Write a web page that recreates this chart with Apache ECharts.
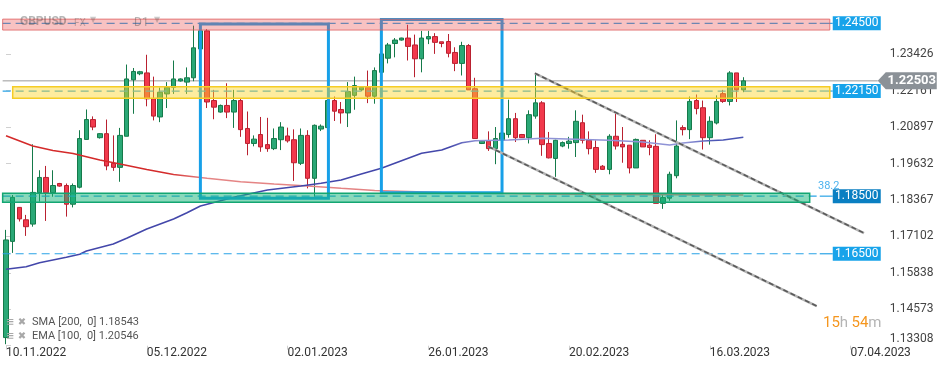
<!DOCTYPE html>
<html><head><meta charset="utf-8">
<script src="https://cdn.jsdelivr.net/npm/echarts@6/dist/echarts.min.js"></script>
<style>html,body{margin:0;padding:0;background:#fff}#c{width:949px;height:370px}</style>
</head><body><div id="c"></div>
<script>
// ---- candle data (GBPUSD D1), one entry per candle ----
const opens = [1.1359,1.1693,1.1811,1.1768,1.1753,1.1862,1.1915,1.1862,1.1894,1.1887,
 1.1822,1.1881,1.2047,1.2116,1.2053,1.2067,1.1964,1.1950,1.2058,1.2254,
 1.2275,1.2278,1.2188,1.2125,1.2205,1.2228,1.2250,1.2246,1.2261,1.2361,
 1.2424,1.2182,1.2142,1.2165,1.2142,1.2182,1.2085,1.2033,1.2064,1.2029,
 1.2015,1.2046,1.2059,1.2046,1.1964,1.2061,1.1912,1.2083,1.2088,1.2182,
 1.2151,1.2139,1.2200,1.2219,1.2228,1.2197,1.2280,1.2329,1.2380,1.2392,
 1.2399,1.2375,1.2327,1.2396,1.2404,1.2386,1.2387,1.2349,1.2311,1.2373,
 1.2223,1.2033,1.2041,1.2015,1.2044,1.2064,1.2119,1.2064,1.2053,1.2128,
 1.2174,1.2033,1.1981,1.2024,1.2033,1.2036,1.2105,1.2044,1.2019,1.1954,
 1.1943,1.2058,1.2030,1.2027,1.1948,1.2044,1.2027,1.2023,1.1825,1.1843,
 1.1921,1.2088,1.2081,1.2182,1.2157,1.2053,1.2104,1.2206,1.2179,1.2278,
 1.2219];
const highs = [1.1733,1.1854,1.1812,1.1785,1.2030,1.1940,1.1955,1.1940,1.1896,1.1894,
 1.1894,1.2079,1.2151,1.2127,1.2069,1.2116,1.2061,1.2087,1.2307,1.2295,
 1.2285,1.2341,1.2265,1.2227,1.2246,1.2321,1.2259,1.2297,1.2442,1.2446,
 1.2430,1.2219,1.2168,1.2242,1.2219,1.2188,1.2144,1.2061,1.2125,1.2122,
 1.2085,1.2107,1.2088,1.2082,1.2085,1.2079,1.2099,1.2099,1.2196,1.2196,
 1.2177,1.2246,1.2265,1.2230,1.2286,1.2297,1.2347,1.2382,1.2399,1.2400,
 1.2445,1.2411,1.2424,1.2424,1.2416,1.2386,1.2413,1.2367,1.2386,1.2378,
 1.2261,1.2042,1.2075,1.2090,1.2072,1.2185,1.2139,1.2066,1.2148,1.2275,
 1.2180,1.2073,1.2046,1.2040,1.2056,1.2148,1.2133,1.2075,1.2044,1.1958,
 1.2065,1.2139,1.2090,1.2027,1.2050,1.2044,1.2044,1.2065,1.1860,1.1935,
 1.2113,1.2096,1.2196,1.2203,1.2182,1.2127,1.2200,1.2219,1.2284,1.2278,
 1.2263];
const lows = [1.1336,1.1653,1.1762,1.1712,1.1744,1.1831,1.1764,1.1848,1.1883,1.1779,
 1.1811,1.1877,1.2047,1.2079,1.2050,1.1940,1.1938,1.1900,1.2058,1.2136,
 1.2270,1.2162,1.2113,1.2107,1.2156,1.2205,1.2248,1.2205,1.2249,1.2361,
 1.2156,1.2117,1.2140,1.2121,1.2087,1.2056,1.1992,1.2023,1.2004,1.2004,
 1.2010,1.2010,1.2036,1.1903,1.1958,1.1877,1.1848,1.2076,1.2085,1.2111,
 1.2102,1.2090,1.2150,1.2215,1.2173,1.2171,1.2275,1.2311,1.2332,1.2390,
 1.2321,1.2263,1.2280,1.2378,1.2344,1.2367,1.2332,1.2284,1.2269,1.2219,
 1.2050,1.2031,1.2007,1.1961,1.2040,1.2053,1.2038,1.2052,1.2033,1.2119,
 1.1990,1.1981,1.1917,1.2020,1.2015,1.1986,1.2033,1.1995,1.1931,1.1941,
 1.1926,1.2012,1.1966,1.1929,1.1948,1.2021,1.1992,1.1825,1.1806,1.1834,
 1.1912,1.2061,1.2048,1.2134,1.2012,1.2029,1.2099,1.2174,1.2165,1.2177,
 1.2211];
const closes = [1.1698,1.1846,1.1771,1.1744,1.1863,1.1915,1.1862,1.1887,1.1885,1.1822,
 1.1887,1.2050,1.2116,1.2090,1.2067,1.1955,1.1950,1.2061,1.2257,1.2283,
 1.2282,1.2188,1.2128,1.2211,1.2228,1.2257,1.2257,1.2261,1.2365,1.2424,
 1.2177,1.2159,1.2165,1.2142,1.2182,1.2081,1.2033,1.2048,1.2021,1.2015,
 1.2050,1.2090,1.2042,1.1966,1.2061,1.1912,1.2096,1.2093,1.2182,1.2145,
 1.2139,1.2213,1.2234,1.2228,1.2197,1.2286,1.2344,1.2375,1.2392,1.2399,
 1.2370,1.2327,1.2399,1.2404,1.2384,1.2380,1.2346,1.2311,1.2373,1.2219,
 1.2050,1.2041,1.2015,1.2050,1.2069,1.2119,1.2053,1.2053,1.2133,1.2174,
 1.2029,1.1983,1.2044,1.2036,1.2041,1.2110,1.2044,1.2015,1.1943,1.1943,
 1.2058,1.2024,1.2021,1.1948,1.2047,1.2021,1.2019,1.1825,1.1845,1.1926,
 1.2024,1.2081,1.2179,1.2154,1.2053,1.2110,1.2179,1.2179,1.2278,1.2219,
 1.22503];

// ---- moving averages (read at sample candles) ----
const smaIdx = [0,4,7,10,14,17,21,25,30,35,40,45,50,55,60,65,70,80,90,100,110];
const smaVals = [1.20600,1.20242,1.20086,1.19982,1.19756,1.19617,1.19426,1.19252,1.19120,1.19002,
 1.18923,1.18853,1.18773,1.18697,1.18662,1.18627,1.18600,1.18575,1.18558,1.18548,1.18543];
const emaIdx = [0,3,5,9,11,12,16,18,21,25,27,29,34,39,44,47,50,53,56,58,62,65,68,70,75,80,85,90,95,99,101,104,107,110];
const emaVals = [1.15961,1.16051,1.16190,1.16377,1.16482,1.16596,1.16839,1.17037,1.17360,1.17707,
 1.17926,1.18159,1.18461,1.18714,1.18853,1.18947,1.19061,1.19270,1.19468,1.19641,
 1.19989,1.20103,1.20357,1.20426,1.20450,1.20509,1.20474,1.20440,1.20381,1.20277,
 1.20346,1.20416,1.20450,1.20546];

// ---- zones, levels, boxes, trend lines ----
const bandStart = [-0.5, 1.0, -0.5];
const bandEnd = [122.9, 122.9, 119.9];
const bandTop = [1.24647, 1.22297, 1.18599];
const bandBottom = [1.24267, 1.21903, 1.18287];
const levels = [1.245, 1.2215, 1.185, 1.165];
const levelLabels = ['1.24500', '1.22150', '1.18500', '1.16500'];
const boxStart = [29.0, 56.0];
const boxEnd = [48.1, 74.0];
const boxTop = [1.24478, 1.24634];
const boxBottom = [1.18426, 1.18617];
const trendX0 = [78.9, 71.95];
const trendV0 = [1.22766, 1.20225];
const trendX1 = [128.0, 120.94];
const trendV1 = [1.17221, 1.14686];

// ---- ticks ----
const xTickIdx = [0, 21, 42, 63, 84, 105, 126];
const xTickLabels = ['10.11.2022','05.12.2022','02.01.2023','26.01.2023','20.02.2023','16.03.2023','07.04.2023'];
const yTicks = [1.13308,1.14573,1.15838,1.17102,1.18367,1.19632,1.20897,1.22161,1.23426];

// ---- styles (kept apart from data) ----
const bandStyles = [
  {fill:'rgba(235,80,80,0.35)', stroke:'rgba(220,90,90,0.75)', lw:1},
  {fill:'rgba(250,212,40,0.45)', stroke:'#f5cc25', lw:1.5},
  {fill:'rgba(20,180,120,0.5)', stroke:'#13a672', lw:1.5}
];
const levelBoxColors = ['#17a3ea','#17a3ea','#0a7fc2','#17a3ea'];
const FONT = 'Roboto, "Noto Sans", sans-serif';

const candleData = opens.map((o, i) => [i, o, closes[i], lows[i], highs[i]]);
const smaData = smaIdx.map((x, k) => [x, smaVals[k]]);
const emaData = emaIdx.map((x, k) => [x, emaVals[k]]);
const lastIdx = closes.length - 1;

const chart = echarts.init(document.getElementById('c'), null, {renderer:'canvas'});
const LG = echarts.graphic.LinearGradient;

const option = {
  animation: false,
  backgroundColor: '#fff',
  grid: {left: 2.65, right: 68.25, top: 0, bottom: 24.3, outerBoundsMode: 'none'},
  xAxis: {
    type: 'value', min: -0.5, max: 130.5,
    splitLine: {show: false}, axisLine: {show: false},
    axisTick: {show: true, length: 4, customValues: xTickIdx, lineStyle: {color: '#d0d0d0'}},
    axisLabel: {customValues: xTickIdx, align: 'left', margin: 1, color: '#333', fontSize: 12, fontFamily: FONT,
      formatter: v => xTickLabels[xTickIdx.indexOf(Math.round(v))] || ''}
  },
  yAxis: {
    type: 'value', position: 'right', min: 1.13308, max: 1.25311,
    splitLine: {show: false}, axisLine: {show: false},
    axisTick: {show: true, length: 5, customValues: yTicks, lineStyle: {color: '#d0d0d0'}},
    axisLabel: {customValues: yTicks, margin: 9, color: '#444', fontSize: 12, fontFamily: FONT,
      formatter: v => Math.abs(v - yTicks[0]) < 1e-9 ? '{lo|' + v.toFixed(5) + '}' : v.toFixed(5),
      rich: {lo: {fontSize: 12, color: '#444', fontFamily: FONT, padding: [0, 0, 14, 0]}}}
  },
  series: [
    { // current price line
      type: 'custom', z: 1, silent: true, clip: false,
      data: [[lastIdx, closes[lastIdx]]], encode: {x: 0, y: 1},
      renderItem: (params, api) => {
        const cs = params.coordSys;
        const y = api.coord([0, api.value(1)])[1];
        return {type: 'line', shape: {x1: cs.x, y1: y, x2: cs.x + cs.width - 3, y2: y},
          style: {stroke: '#9a9a9a', lineWidth: 1}};
      }
    },
    {
      type: 'candlestick', z: 2, barWidth: 5,
      dimensions: ['idx', 'open', 'close', 'lowest', 'highest'],
      encode: {x: 'idx', y: ['open', 'close', 'lowest', 'highest']},
      data: candleData,
      itemStyle: {color: '#2aa876', color0: '#f2394c', borderColor: '#157a4a', borderColor0: '#b92130', borderWidth: 1}
    },
    {
      type: 'line', z: 3, data: smaData, symbol: 'none', silent: true,
      lineStyle: {width: 1.6, color: new LG(0, 0, 1, 0, [
        {offset: 0, color: '#d42a2a'}, {offset: 0.22, color: '#d42a2a'},
        {offset: 0.27, color: '#e58585'}, {offset: 1, color: '#e08080'}])}
    },
    {
      type: 'line', z: 3, data: emaData, symbol: 'none', silent: true,
      lineStyle: {width: 1.6, color: new LG(0, 0, 1, 0, [
        {offset: 0, color: '#4347aa'}, {offset: 0.6, color: '#4347aa'},
        {offset: 0.64, color: '#8f93d6'}, {offset: 0.92, color: '#8f93d6'},
        {offset: 0.96, color: '#4a55b4'}, {offset: 1, color: '#4a55b4'}])}
    },
    { // level lines with right-side labels
      type: 'custom', z: 4, silent: true, clip: false,
      data: levels.map(v => [121.4, v]), encode: {x: 0, y: 1},
      renderItem: (params, api) => {
        const k = params.dataIndex;
        const cs = params.coordSys;
        const p = api.coord([api.value(0), api.value(1)]);
        const xr = cs.x + cs.width;
        return {type: 'group', children: [
          {type: 'line', shape: {x1: cs.x, y1: p[1], x2: p[0], y2: p[1]},
            style: {stroke: '#2aa3e6', lineWidth: 1.2, lineDash: [8, 5]}},
          {type: 'line', shape: {x1: p[0], y1: p[1], x2: xr - 48, y2: p[1]},
            style: {stroke: '#2aa3e6', lineWidth: 1.2}},
          {type: 'rect', shape: {x: xr - 48, y: p[1] - 7, width: 48, height: 14},
            style: {fill: levelBoxColors[k]}},
          {type: 'text', x: xr - 24, y: p[1],
            style: {text: levelLabels[k], fill: '#fff', font: '12px ' + FONT, align: 'center', verticalAlign: 'middle'}}
        ]};
      }
    },
    { // blue rectangles
      type: 'custom', z: 4, silent: true, clip: false,
      data: boxStart.map((s, k) => [s, boxTop[k], boxEnd[k], boxBottom[k]]), encode: {x: [0, 2], y: [1, 3]},
      renderItem: (params, api) => {
        const a = api.coord([api.value(0), api.value(1)]);
        const b = api.coord([api.value(2), api.value(3)]);
        return {type: 'rect', shape: {x: a[0], y: a[1], width: b[0] - a[0], height: b[1] - a[1]},
          style: {fill: 'none', stroke: '#17a0e8', lineWidth: 3}};
      }
    },
    { // trend lines
      type: 'custom', z: 4, silent: true, clip: false,
      data: trendX0.map((x, k) => [x, trendV0[k], trendX1[k], trendV1[k]]), encode: {x: [0, 2], y: [1, 3]},
      renderItem: (params, api) => {
        const a = api.coord([api.value(0), api.value(1)]);
        const b = api.coord([api.value(2), api.value(3)]);
        return {type: 'group', children: [
          {type: 'line', shape: {x1: a[0], y1: a[1], x2: b[0], y2: b[1]}, style: {stroke: '#b4b4b4', lineWidth: 2.5}},
          {type: 'line', shape: {x1: a[0], y1: a[1], x2: b[0], y2: b[1]}, style: {stroke: '#5a5a5a', lineWidth: 1.6, lineDash: [5, 3]}}
        ]};
      }
    },
    { // zones
      type: 'custom', z: 5, silent: true, clip: false,
      data: bandStart.map((s, k) => [s, bandTop[k], bandEnd[k], bandBottom[k]]), encode: {x: [0, 2], y: [1, 3]},
      renderItem: (params, api) => {
        const k = params.dataIndex;
        const a = api.coord([api.value(0), api.value(1)]);
        const b = api.coord([api.value(2), api.value(3)]);
        const s = bandStyles[k];
        return {type: 'rect', shape: {x: a[0], y: a[1], width: b[0] - a[0], height: b[1] - a[1]},
          style: {fill: s.fill, stroke: s.stroke, lineWidth: s.lw}};
      }
    },
    { // current price tag
      type: 'custom', z: 10, silent: true, clip: false,
      data: [[lastIdx, closes[lastIdx]]], encode: {x: 0, y: 1},
      renderItem: (params, api) => {
        const cs = params.coordSys;
        const y = api.coord([0, api.value(1)])[1];
        const tip = cs.x + cs.width - 3;
        return {type: 'group', children: [
          {type: 'polygon', shape: {points: [[tip, y], [tip + 8, y - 8.5], [tip + 59, y - 8.5], [tip + 59, y + 8.5], [tip + 8, y + 8.5]]},
            style: {fill: '#8b9197'}},
          {type: 'text', x: tip + 34, y: y,
            style: {text: api.value(1).toFixed(5), fill: '#fff', font: 'bold 13px ' + FONT, align: 'center', verticalAlign: 'middle'}}
        ]};
      }
    }
  ],
  graphic: [
    {type: 'text', left: 20, top: 16, z: 20, silent: true,
      style: {text: 'GBPUSD', fill: 'rgba(80,80,80,0.42)', font: 'bold 12px ' + FONT}},
    {type: 'text', left: 74, top: 18, z: 20, silent: true,
      style: {text: 'FX', fill: 'rgba(80,80,80,0.35)', font: '10px ' + FONT}},
    {type: 'text', left: 90, top: 16, z: 20, silent: true,
      style: {text: '▼', fill: 'rgba(80,80,80,0.3)', font: '8px "DejaVu Sans"'}},
    {type: 'text', left: 134, top: 17, z: 20, silent: true,
      style: {text: 'D1', fill: 'rgba(80,80,80,0.42)', font: '12px ' + FONT}},
    {type: 'text', left: 154, top: 16, z: 20, silent: true,
      style: {text: '▼', fill: 'rgba(80,80,80,0.3)', font: '8px "DejaVu Sans"'}},
    {type: 'text', left: 818, top: 181, z: 20, silent: true,
      style: {text: '38.2', fill: '#4db3ee', font: '11px ' + FONT}},
    {type: 'text', left: 6, top: 317, z: 20, silent: true,
      style: {text: '≡ ✖', fill: '#a8a8a8', font: 'bold 10px "DejaVu Sans"'}},
    {type: 'text', left: 6, top: 331, z: 20, silent: true,
      style: {text: '≡ ✖', fill: '#a8a8a8', font: 'bold 10px "DejaVu Sans"'}},
    {type: 'text', left: 32, top: 317, z: 20, silent: true,
      style: {text: 'SMA [200,  0] 1.18543', fill: '#555', font: '11px ' + FONT}},
    {type: 'text', left: 32, top: 331, z: 20, silent: true,
      style: {text: 'EMA [100,  0] 1.20546', fill: '#555', font: '11px ' + FONT}},
    {type: 'text', left: 823, top: 316, z: 20, silent: true,
      style: {text: '{o|15}{g|h} {o|54}{g|m}', rich: {
        o: {fill: '#f5961e', font: '15px ' + FONT},
        g: {fill: '#b4b4b4', font: '15px ' + FONT}}}}
  ]
};
chart.setOption(option);
</script>
</body></html>
